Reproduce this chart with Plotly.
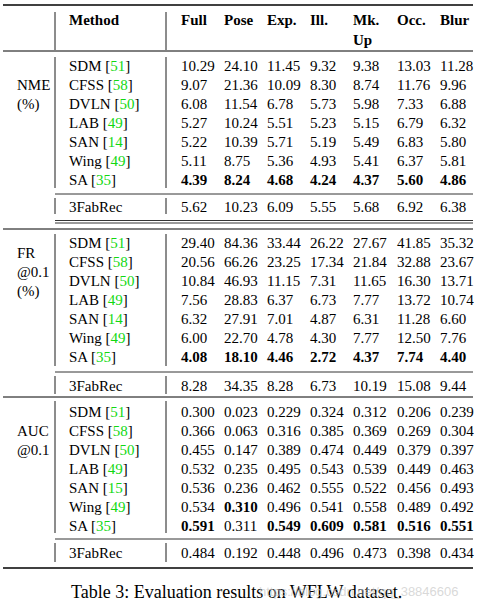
import plotly.graph_objects as go

# table content
columns = ["Full", "Pose", "Exp.", "Ill.", "Mk.<br>Up", "Occ.", "Blur"]
methods = ["SDM", "CFSS", "DVLN", "LAB", "SAN", "Wing", "SA"]
refs_nme = ["51", "58", "50", "49", "14", "49", "35"]
refs_fr = ["51", "58", "50", "49", "14", "49", "35"]
refs_auc = ["51", "58", "50", "49", "15", "49", "35"]

nme = [
    [10.29, 24.10, 11.45, 9.32, 9.38, 13.03, 11.28],
    [9.07, 21.36, 10.09, 8.30, 8.74, 11.76, 9.96],
    [6.08, 11.54, 6.78, 5.73, 5.98, 7.33, 6.88],
    [5.27, 10.24, 5.51, 5.23, 5.15, 6.79, 6.32],
    [5.22, 10.39, 5.71, 5.19, 5.49, 6.83, 5.80],
    [5.11, 8.75, 5.36, 4.93, 5.41, 6.37, 5.81],
    [4.39, 8.24, 4.68, 4.24, 4.37, 5.60, 4.86],
]
nme_3fabrec = [5.62, 10.23, 6.09, 5.55, 5.68, 6.92, 6.38]

fr = [
    [29.40, 84.36, 33.44, 26.22, 27.67, 41.85, 35.32],
    [20.56, 66.26, 23.25, 17.34, 21.84, 32.88, 23.67],
    [10.84, 46.93, 11.15, 7.31, 11.65, 16.30, 13.71],
    [7.56, 28.83, 6.37, 6.73, 7.77, 13.72, 10.74],
    [6.32, 27.91, 7.01, 4.87, 6.31, 11.28, 6.60],
    [6.00, 22.70, 4.78, 4.30, 7.77, 12.50, 7.76],
    [4.08, 18.10, 4.46, 2.72, 4.37, 7.74, 4.40],
]
fr_3fabrec = [8.28, 34.35, 8.28, 6.73, 10.19, 15.08, 9.44]

auc = [
    [0.300, 0.023, 0.229, 0.324, 0.312, 0.206, 0.239],
    [0.366, 0.063, 0.316, 0.385, 0.369, 0.269, 0.304],
    [0.455, 0.147, 0.389, 0.474, 0.449, 0.379, 0.397],
    [0.532, 0.235, 0.495, 0.543, 0.539, 0.449, 0.463],
    [0.536, 0.236, 0.462, 0.555, 0.522, 0.456, 0.493],
    [0.534, 0.310, 0.496, 0.541, 0.558, 0.489, 0.492],
    [0.591, 0.311, 0.549, 0.609, 0.581, 0.516, 0.551],
]
auc_3fabrec = [0.484, 0.192, 0.448, 0.496, 0.473, 0.398, 0.434]

# (row, col) cells printed in bold
bold_nme = [(6, c) for c in range(7)]
bold_fr = [(6, c) for c in range(7)]
bold_auc = [(6, 0), (5, 1), (6, 2), (6, 3), (6, 4), (6, 5), (6, 6)]

caption = "Table 3: Evaluation results on WFLW dataset."
watermark = "https://blog.csdn.net/qq_38846606"

# layout in page pixels
W, H = 477, 609
FONT = "Liberation Serif"
FS = 15
GREEN = "#11d811"
col_x = [179, 222, 265, 308, 351, 395, 438]
method_x = 67
label_x = 15
row_h = 19
vline_x = [55, 166]

blocks = [
    dict(vals=nme, extra=nme_3fabrec, refs=refs_nme, bold=bold_nme, fmt="{:.2f}",
         top=66, extra_y=207, label=["NME", "(%)"], label_y=[85, 104]),
    dict(vals=fr, extra=fr_3fabrec, refs=refs_fr, bold=bold_fr, fmt="{:.2f}",
         top=243, extra_y=385.5, label=["FR", "@0.1", "(%)"], label_y=[253, 272, 291]),
    dict(vals=auc, extra=auc_3fabrec, refs=refs_auc, bold=bold_auc, fmt="{:.3f}",
         top=412, extra_y=553, label=["AUC", "@0.1"], label_y=[431, 450]),
]

annotations = []


def txt(x, y, s, size=FS, color="black", family=FONT, xanchor="left"):
    annotations.append(dict(x=x, y=y, text=s, showarrow=False, xanchor=xanchor, yanchor="middle",
                            xref="x", yref="y", font=dict(family=family, size=size, color=color)))


# header
txt(method_x, 20, "<b>Method</b>")
for cx, name in zip(col_x, columns):
    if "<br>" in name:
        a, b = name.split("<br>")
        txt(cx, 20, f"<b>{a}</b>")
        txt(cx, 40, f"<b>{b}</b>")
    else:
        txt(cx, 20, f"<b>{name}</b>")

for blk in blocks:
    for i, (m, r) in enumerate(zip(methods, blk["refs"])):
        y = blk["top"] + i * row_h
        txt(method_x, y, f"{m} [<span style='color:{GREEN}'>{r}</span>]")
        for j, v in enumerate(blk["vals"][i]):
            s = blk["fmt"].format(v)
            if (i, j) in blk["bold"]:
                s = f"<b>{s}</b>"
            txt(col_x[j], y, s)
    txt(method_x, blk["extra_y"], "3FabRec")
    for j, v in enumerate(blk["extra"]):
        txt(col_x[j], blk["extra_y"], blk["fmt"].format(v))
    for lab, ly in zip(blk["label"], blk["label_y"]):
        txt(label_x, ly, lab)

txt(236, 592, caption, size=18, xanchor="center")
txt(257, 591, watermark, size=13, color="rgba(200,200,200,0.7)", family="Liberation Sans")

# rules
shapes = []


def hline(y, x0, width=0.8):
    shapes.append(dict(type="line", xref="x", yref="y", x0=x0, x1=473, y0=y, y1=y,
                       line=dict(color="black", width=width)))


hline(5, 3, 1.4)
hline(51, 3, 1.0)
hline(194, 55)
hline(220.5, 55)
hline(223, 55)
hline(229, 3, 1.0)
hline(372, 55)
hline(397, 3, 1.0)
hline(539, 55)
hline(568, 3, 1.5)

v_spans = [(12, 50), (57, 188), (198, 214), (234, 366), (376, 394), (401, 533), (543, 562)]
for vx in vline_x:
    for y0, y1 in v_spans:
        shapes.append(dict(type="line", xref="x", yref="y", x0=vx, x1=vx, y0=y0, y1=y1,
                           line=dict(color="black", width=0.9)))

fig = go.Figure()
fig.update_layout(
    width=W, height=H,
    margin=dict(l=0, r=0, t=0, b=0),
    paper_bgcolor="white", plot_bgcolor="white",
    xaxis=dict(range=[0, W], visible=False, fixedrange=True),
    yaxis=dict(range=[H, 0], visible=False, fixedrange=True),
    annotations=annotations,
    shapes=shapes,
    showlegend=False,
)
# drop the page's default body margin so the figure sits at the window's corner
fig.write_html("out.html", config={"displayModeBar": False},
               post_script="document.body.style.margin='0';")
